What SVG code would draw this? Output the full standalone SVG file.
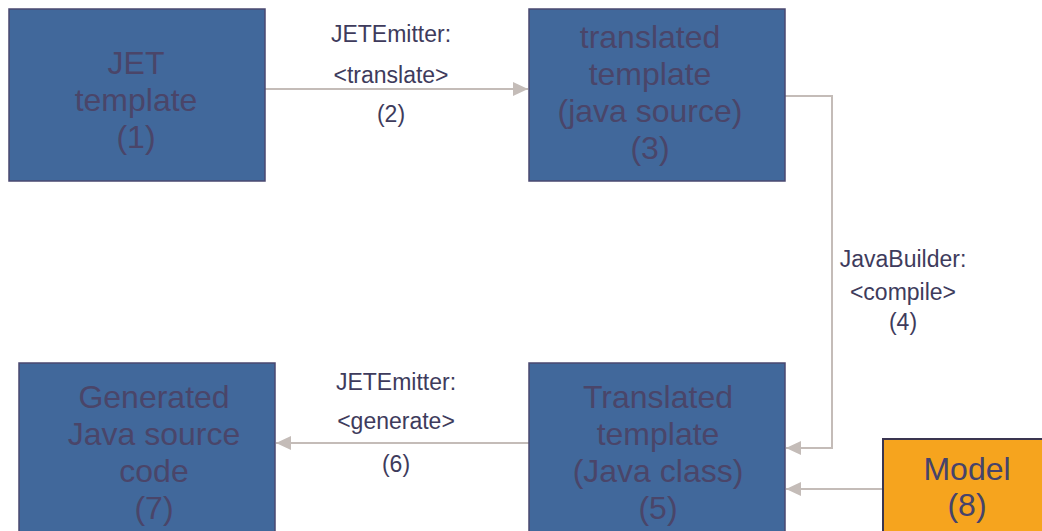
<svg xmlns="http://www.w3.org/2000/svg" width="1042" height="531" viewBox="0 0 1042 531">
  <style>
    .box { fill: #41689b; stroke: #4a4870; stroke-width: 1.5; }
    .model { fill: #f6a41e; stroke: #3a3550; stroke-width: 2; }
    .bt { font-family: "Liberation Sans", Arial, sans-serif; font-size: 32px; fill: #4a4569; text-anchor: middle; }
    .mt { font-family: "Liberation Sans", Arial, sans-serif; font-size: 32px; fill: #46436b; text-anchor: middle; }
    .lbl { font-family: "Liberation Sans", Arial, sans-serif; font-size: 23px; fill: #3e3b5c; text-anchor: middle; }
    .conn { fill: none; stroke: #c4bcb8; stroke-width: 2; }
  </style>
  <defs>
    <marker id="arr" markerUnits="userSpaceOnUse" markerWidth="16" markerHeight="14" refX="15" refY="7" orient="auto">
      <path d="M0,0 L15,7 L0,14 Z" fill="#c4bcb8"/>
    </marker>
  </defs>
  <rect width="1042" height="531" fill="#ffffff"/>

  <g id="connectors">
    <line class="conn" x1="265" y1="89" x2="528" y2="89" marker-end="url(#arr)"/>
    <polyline class="conn" points="785,96 832,96 832,448 786,448" marker-end="url(#arr)"/>
    <line class="conn" x1="529" y1="443" x2="276" y2="443" marker-end="url(#arr)"/>
    <line class="conn" x1="883" y1="489" x2="786" y2="489" marker-end="url(#arr)"/>
    <text class="lbl" x="391" y="42">JETEmitter:</text>
    <text class="lbl" x="391" y="83">&lt;translate&gt;</text>
    <text class="lbl" x="391" y="122">(2)</text>
    <text class="lbl" x="903" y="267">JavaBuilder:</text>
    <text class="lbl" x="903" y="300">&lt;compile&gt;</text>
    <text class="lbl" x="903" y="330">(4)</text>
    <text class="lbl" x="396" y="390">JETEmitter:</text>
    <text class="lbl" x="396" y="429">&lt;generate&gt;</text>
    <text class="lbl" x="396" y="472">(6)</text>
  </g>

  <g id="node1">
    <rect class="box" x="9" y="9" width="256" height="172"/>
    <text class="bt" x="136" y="74">JET</text>
    <text class="bt" x="136" y="111">template</text>
    <text class="bt" x="136" y="148">(1)</text>
  </g>

  <g id="node3">
    <rect class="box" x="529" y="9" width="256" height="172"/>
    <text class="bt" x="650" y="48">translated</text>
    <text class="bt" x="650" y="85">template</text>
    <text class="bt" x="650" y="122">(java source)</text>
    <text class="bt" x="650" y="159">(3)</text>
  </g>

  <g id="node5">
    <rect class="box" x="529" y="363" width="256" height="172"/>
    <text class="bt" x="658" y="408">Translated</text>
    <text class="bt" x="658" y="445">template</text>
    <text class="bt" x="658" y="482">(Java class)</text>
    <text class="bt" x="658" y="519">(5)</text>
  </g>

  <g id="node7">
    <rect class="box" x="19" y="363" width="256" height="172"/>
    <text class="bt" x="154" y="408">Generated</text>
    <text class="bt" x="154" y="445">Java source</text>
    <text class="bt" x="154" y="482">code</text>
    <text class="bt" x="154" y="519">(7)</text>
  </g>

  <g id="node8">
    <rect class="model" x="883" y="439" width="168" height="100"/>
    <text class="mt" x="967" y="480">Model</text>
    <text class="mt" x="967" y="516">(8)</text>
  </g>
</svg>
